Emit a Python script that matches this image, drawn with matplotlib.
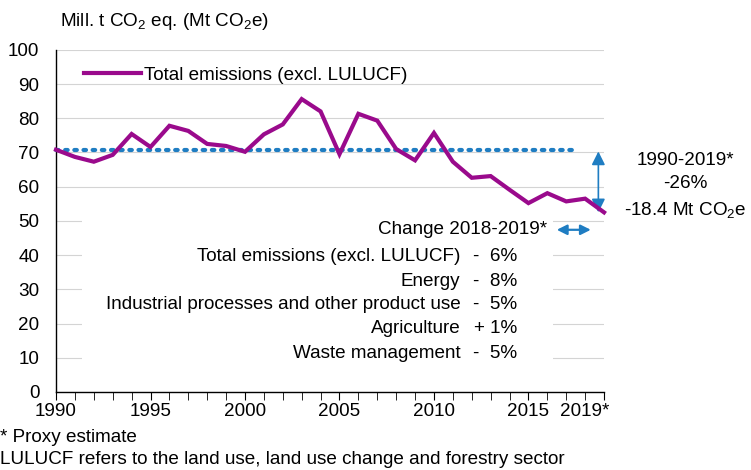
import matplotlib.pyplot as plt
from matplotlib.patches import Rectangle
from matplotlib.transforms import ScaledTranslation

plt.rcParams['font.family'] = ['Liberation Sans', 'DejaVu Sans']
plt.rcParams['mathtext.fontset'] = 'custom'
plt.rcParams['mathtext.rm'] = 'Liberation Sans'
plt.rcParams['mathtext.it'] = 'Liberation Sans:italic'

years = list(range(1990, 2020))
emissions = [70.8, 68.7, 67.3, 69.3, 75.4, 71.6, 77.8, 76.3, 72.5, 71.9,
             70.2, 75.3, 78.2, 85.6, 82.0, 69.5, 81.3, 79.3, 71.0, 67.7,
             75.7, 67.3, 62.6, 63.1, 59.1, 55.2, 58.1, 55.7, 56.5, 52.5]
tick_years = [1990, 1995, 2000, 2005, 2010, 2015, 2019]
tick_labels = ['1990', '1995', '2000', '2005', '2010', '2015', '2019*']

sectors = ['Total emissions (excl. LULUCF)', 'Energy',
           'Industrial processes and other product use', 'Agriculture',
           'Waste management']
changes = ['-  6%', '-  8%', '-  5%', '+ 1%', '-  5%']

purple = '#9a0a8c'
blue = '#1f7dc2'
fs = 13.6

fig = plt.figure(figsize=(7.51, 4.70), dpi=100)
ax = fig.add_axes([0.0746, 0.166, 0.7297, 0.728])

ax.set_xlim(1990, 2019)
ax.set_ylim(0, 100)
ax.set_yticks(range(0, 101, 10))
ax.grid(axis='y', color='#d4d4d4', linewidth=0.8, zorder=0)
ax.set_axisbelow(True)

for s in ['top', 'right']:
    ax.spines[s].set_visible(False)
ax.spines['left'].set_linewidth(1.0)
ax.spines['bottom'].set_linewidth(1.0)
ax.tick_params(axis='y', length=0, labelsize=fs, pad=12)
ax.set_xticks(tick_years)
ax.set_xticklabels(tick_labels)
ax.set_xticks(years, minor=True)
ax.tick_params(axis='x', which='both', length=6, direction='out', labelsize=fs, pad=2)
last = ax.get_xticklabels()[-1]
last.set_transform(last.get_transform() + ScaledTranslation(-0.19, 0, fig.dpi_scale_trans))

# white box hiding grid behind the change table
ax.add_patch(Rectangle((1991.4, 7), 24.9, 44.5, facecolor='white',
                       edgecolor='none', zorder=1))

base = emissions[0]
ax.plot([years[0], 2017.6], [base, base], color=blue, linestyle=(0, (0.6, 1.6)),
        linewidth=3, dash_capstyle='round', zorder=3, clip_on=False)

ax.plot(years, emissions, color=purple, linewidth=3, zorder=4, clip_on=False,
        solid_joinstyle='miter', label='Total emissions (excl. LULUCF)')

ax.annotate('', xy=(2018.7, emissions[-1]), xytext=(2018.7, base - 0.5),
            arrowprops=dict(arrowstyle='<|-|>', color=blue, lw=1.2,
                            mutation_scale=20, shrinkA=0, shrinkB=0),
            annotation_clip=False)
ax.annotate('', xy=(2016.5, 47.4), xytext=(2018.3, 47.4),
            arrowprops=dict(arrowstyle='<|-|>', color=blue, lw=1.6,
                            mutation_scale=15, shrinkA=0, shrinkB=0),
            annotation_clip=False, zorder=5)

ax.text(2016.0, 47.4, 'Change 2018-2019*', ha='right', va='center', fontsize=fs, zorder=5)
ys = [39.6, 32.3, 25.5, 18.5, 11.2]
for name, ch, y in zip(sectors, changes, ys):
    ax.text(2011.4, y, name, ha='right', va='center', fontsize=fs, zorder=5)
    ax.text(2014.4, y, ch, ha='right', va='center', fontsize=fs, zorder=5)

ax.text(2023.3, 60.2, '1990-2019*\n-26%\n-18.4 Mt CO$_2$e', ha='center',
        va='center', fontsize=fs, linespacing=1.5)

ax.legend(loc='upper left', bbox_to_anchor=(0.02, 1.0), frameon=False,
          fontsize=fs, handlelength=3.0, handletextpad=0.2)

fig.text(0.08, 0.955, 'Mill. t CO$_2$ eq. (Mt CO$_2$e)', fontsize=fs, va='center')
fig.text(0.0, 0.07, '* Proxy estimate', fontsize=fs, va='center')
fig.text(0.0, 0.023, 'LULUCF refers to the land use, land use change and forestry sector',
         fontsize=fs, va='center')

fig.savefig('out.png', dpi=100)
